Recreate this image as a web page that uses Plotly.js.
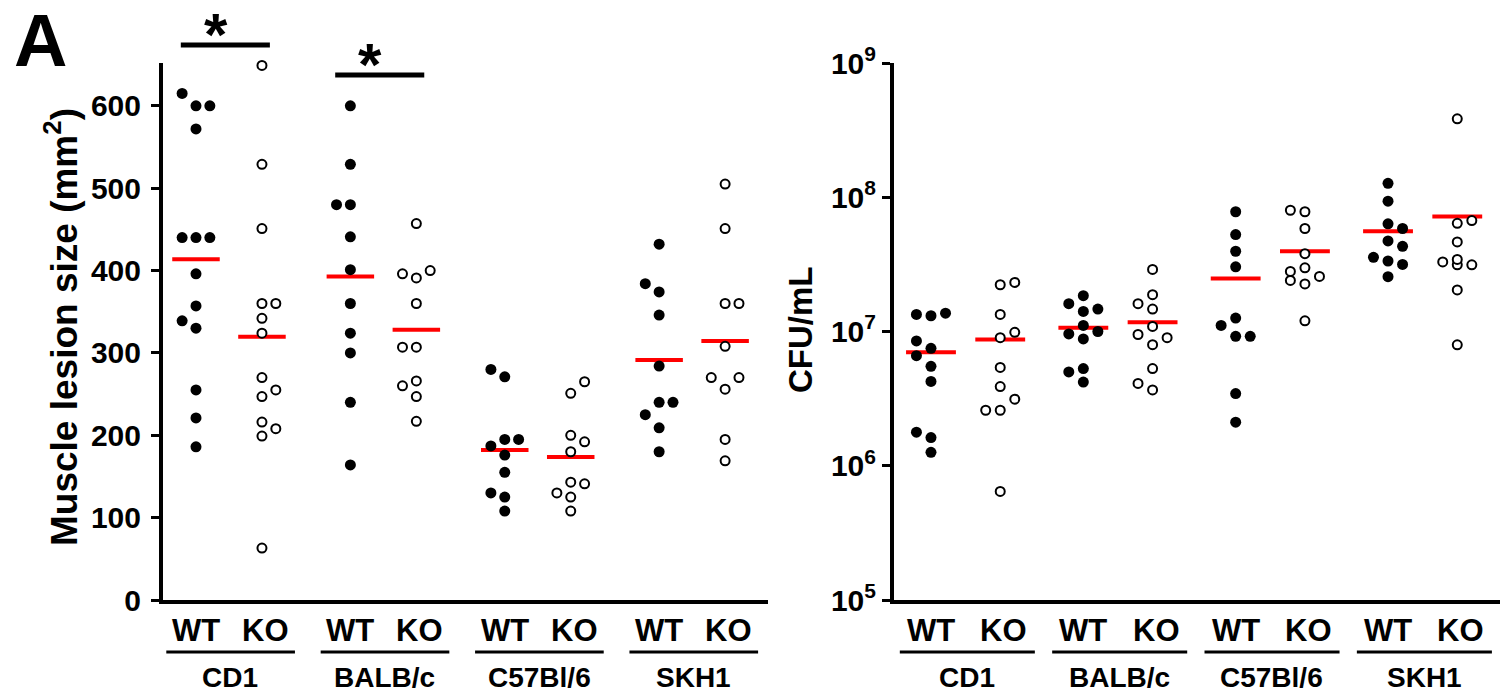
<!DOCTYPE html>
<html>
<head>
<meta charset="utf-8">
<script src="https://cdn.plot.ly/plotly-3.0.1.min.js"></script>
<style>
html,body{margin:0;padding:0;background:#fff;}
#chart{width:1507px;height:698px;}
</style>
</head>
<body>
<div id="chart"></div>
<script>
// ---------------- DATA ----------------
const strains = ['CD1', 'BALB/c', 'C57Bl/6', 'SKH1'];
const genotypes = ['WT', 'KO'];

// Muscle lesion size (mm^2)
const lesionCD1WT  = [600, 615, 600, 572, 440, 440, 440, 396, 357, 330, 339, 255, 221, 186];
const lesionCD1KO  = [649, 529, 451, 360, 360, 342, 324, 270, 247, 255, 199, 208, 216, 63];
const lesionBALBWT = [600, 529, 480, 480, 441, 401, 360, 324, 300, 240, 164];
const lesionBALBKO = [457, 391, 396, 400, 360, 307, 307, 266, 260, 247, 217];
const lesionC57WT  = [271, 280, 195, 187, 195, 176, 155, 125, 130, 108];
const lesionC57KO  = [251, 265, 200, 192, 180, 143, 141, 130, 125, 108];
const lesionSKH1WT = [432, 374, 384, 346, 284, 240, 225, 240, 209, 180];
const lesionSKH1KO = [505, 451, 360, 360, 308, 256, 270, 270, 195, 169];

// CFU/mL
const cfuCD1WT  = [1.31e7, 1.34e7, 1.37e7, 7.5e6, 6.6e6, 8.5e6, 5.5e6, 4.25e6, 1.62e6, 1.78e6, 1.26e6];
const cfuCD1KO  = [2.23e7, 2.32e7, 1.34e7, 9.0e6, 9.86e6, 5.4e6, 3.89e6, 3.13e6, 2.59e6, 2.59e6, 6.44e5];
const cfuBALBWT = [1.85e7, 1.61e7, 1.41e7, 1.47e7, 8.8e6, 9.6e6, 1.0e7, 1.11e7, 4.2e6, 5.3e6, 5.0e6];
const cfuBALBKO = [2.9e7, 1.88e7, 1.61e7, 1.47e7, 1.09e7, 9.5e6, 9.0e6, 7.97e6, 5.3e6, 3.67e6, 4.1e6];
const cfuC57WT  = [7.8e7, 5.27e7, 3.96e7, 3.03e7, 1.26e7, 9.2e6, 1.11e7, 9.2e6, 3.45e6, 2.11e6];
const cfuC57KO  = [7.8e7, 8.0e7, 5.85e7, 3.8e7, 2.98e7, 2.8e7, 2.26e7, 2.57e7, 2.4e7, 1.2e7];
const cfuSKH1WT = [1.27e8, 9.35e7, 6.34e7, 5.85e7, 4.73e7, 4.31e7, 3.35e7, 3.57e7, 3.16e7, 2.56e7];
const cfuSKH1KO = [3.84e8, 6.4e7, 6.7e7, 4.65e7, 3.14e7, 3.14e7, 3.3e7, 3.44e7, 2.04e7, 7.96e6];

const lesionTicks = [0, 100, 200, 300, 400, 500, 600];
const cfuTickExp = [5, 6, 7, 8, 9];
const significantStrains = ['CD1', 'BALB/c'];

// ---------------- LAYOUT CONSTANTS ----------------
const W = 1507, H = 698;
const plotTop = 63, plotBottom = 600;
const plotH = plotBottom - plotTop;
const yDomain = [(H - plotBottom) / H, (H - plotTop) / H];
const py = p => (H - p) / H;      // pixel row -> paper y

const FONT = 'Liberation Sans, Arial, Helvetica, sans-serif';

const lesionGroups = [
  [lesionCD1WT, lesionCD1KO], [lesionBALBWT, lesionBALBKO],
  [lesionC57WT, lesionC57KO], [lesionSKH1WT, lesionSKH1KO]
];
const cfuGroups = [
  [cfuCD1WT, cfuCD1KO], [cfuBALBWT, cfuBALBKO],
  [cfuC57WT, cfuC57KO], [cfuSKH1WT, cfuSKH1KO]
];
// which side a displaced point tries first (layout choice for the swarm)
const sideLeft  = [[-1, 1], [-1, -1], [-1, 1], [-1, 1]];
const sideRight = [[-1, 1], [-1, -1], [-1, -1], [1, 1]];

const panels = [
  { xa: 'x', ya: 'y', groups: lesionGroups, side: sideLeft, gap: 2.34,
    xrange: [-0.5, 8.67], yrange: [0, 652], log: false },
  { xa: 'x2', ya: 'y2', groups: cfuGroups, side: sideRight, gap: 2.2,
    xrange: [-0.534, 8.217], yrange: [5, 9], log: true }
];

const JIT = 0.21, HALF = 0.36, COLLIDE = 13;

function swarm(vals, toPx, first) {
  const placed = [];
  const order = [0, first, -first];
  return vals.map(v => {
    const p = toPx(v);
    let best = null, bestD = -1;
    for (const L of order) {
      const ds = placed.filter(q => q.l === L).map(q => Math.abs(q.p - p));
      const m = ds.length ? Math.min(...ds) : Infinity;
      if (m >= COLLIDE) { best = L; bestD = Infinity; break; }
      if (m > bestD) { bestD = m; best = L; }
    }
    placed.push({ l: best, p });
    return best;
  });
}

const traces = [];
const shapes = [];
const annotations = [];

panels.forEach(pn => {
  const pxPerUnit = plotH / (pn.yrange[1] - pn.yrange[0]);
  const toPx = v => (pn.log ? Math.log10(v) : v) * pxPerUnit;
  const markerTraces = [];
  pn.groups.forEach((pair, s) => {
    pair.forEach((vals, g) => {
      const xc = s * pn.gap + g;
      const lanes = swarm(vals, v => -toPx(v), pn.side[s][g]);
      const mean = vals.reduce((a, b) => a + b, 0) / vals.length;
      traces.push({
        type: 'scatter', mode: 'lines', xaxis: pn.xa, yaxis: pn.ya,
        x: [xc - HALF, xc + HALF], y: [mean, mean],
        line: { color: '#ff0000', width: 4 }, hoverinfo: 'skip', showlegend: false
      });
      markerTraces.push({
        type: 'scatter', mode: 'markers', xaxis: pn.xa, yaxis: pn.ya,
        x: lanes.map(l => xc + l * JIT), y: vals,
        marker: g === 0
          ? { symbol: 'circle', size: 11, color: '#000000', line: { width: 0 } }
          : { symbol: 'circle', size: 9, color: '#ffffff', line: { color: '#000000', width: 2 } },
        cliponaxis: false, hoverinfo: 'skip', showlegend: false
      });
    });
    // category labels
    const xW = s * pn.gap, xK = s * pn.gap + 1;
    annotations.push({ xref: pn.xa, yref: 'paper', x: xW, y: py(630), text: genotypes[0],
      showarrow: false, font: { size: 31, family: FONT, color: '#000', weight: 'bold' }, xanchor: 'center', yanchor: 'middle' });
    annotations.push({ xref: pn.xa, yref: 'paper', x: xK + 0.05, y: py(630), text: genotypes[1],
      showarrow: false, font: { size: 31, family: FONT, color: '#000', weight: 'bold' }, xanchor: 'center', yanchor: 'middle' });
    shapes.push({ type: 'line', xref: pn.xa, yref: 'paper', x0: xW - 0.45, x1: xK + 0.5,
      y0: py(652), y1: py(652), line: { color: '#000', width: 3 } });
    annotations.push({ xref: pn.xa, yref: 'paper', x: (xW + xK) / 2 + 0.02, y: py(677), text: strains[s],
      showarrow: false, font: { size: 28, family: FONT, color: '#000', weight: 'bold' }, xanchor: 'center', yanchor: 'middle' });
  });
  markerTraces.forEach(t => traces.push(t));
});

// significance bars (left panel)
const barRows = [45, 75];
significantStrains.forEach((name, i) => {
  const s = strains.indexOf(name);
  const xW = s * panels[0].gap, xK = xW + 1;
  shapes.push({ type: 'line', xref: 'x', yref: 'paper', x0: xW - 0.23, x1: xK + 0.12,
    y0: py(barRows[i]), y1: py(barRows[i]), line: { color: '#000', width: 5 } });
  annotations.push({ xref: 'x', yref: 'paper', x: xW + 0.3, y: py(barRows[i] - 45), text: '*',
    showarrow: false, font: { size: 60, family: FONT, color: '#000', weight: 'bold' },
    xanchor: 'center', yanchor: 'top', borderpad: 0 });
});

// axis titles and panel letter
annotations.push({ xref: 'paper', yref: 'paper', x: 62 / W, y: py(327), text: 'Muscle lesion size (mm<sup>2</sup>)',
  textangle: -90, showarrow: false, font: { size: 37, family: FONT, color: '#000', weight: 'bold' },
  xanchor: 'center', yanchor: 'middle' });
annotations.push({ xref: 'paper', yref: 'paper', x: 800 / W, y: py(330), text: 'CFU/mL',
  textangle: -90, showarrow: false, font: { size: 33, family: FONT, color: '#000', weight: 'bold' },
  xanchor: 'center', yanchor: 'middle' });
annotations.push({ xref: 'paper', yref: 'paper', x: 40 / W, y: py(40), text: 'A',
  showarrow: false, font: { size: 74, family: FONT, color: '#000', weight: 'bold' },
  xanchor: 'center', yanchor: 'middle' });

const tickFont = { size: 30, family: FONT, color: '#000', weight: 'bold' };
const xAxisBase = { showline: true, linewidth: 4, linecolor: '#000', showgrid: false, zeroline: false,
  ticks: '', showticklabels: false, fixedrange: true };
const yAxisBase = { showline: true, linewidth: 4, linecolor: '#000', showgrid: false, zeroline: false,
  ticks: 'outside', ticklen: 8, tickwidth: 3, tickcolor: '#000', tickfont: tickFont,
  ticklabelstandoff: 4, fixedrange: true };

const layout = {
  width: W, height: H,
  margin: { l: 0, r: 0, t: 0, b: 0 },
  paper_bgcolor: '#fff', plot_bgcolor: '#fff',
  font: { family: FONT, color: '#000' },
  showlegend: false, hovermode: false,
  xaxis: Object.assign({}, xAxisBase, { domain: [163 / W, 768 / W], range: panels[0].xrange, anchor: 'y' }),
  yaxis: Object.assign({}, yAxisBase, { domain: yDomain, range: panels[0].yrange, anchor: 'x',
    tickmode: 'array', tickvals: lesionTicks, ticktext: lesionTicks.map(String) }),
  xaxis2: Object.assign({}, xAxisBase, { domain: [894 / W, 1500 / W], range: panels[1].xrange, anchor: 'y2' }),
  yaxis2: Object.assign({}, yAxisBase, { domain: yDomain, type: 'log', range: panels[1].yrange, anchor: 'x2',
    tickmode: 'array', tickvals: cfuTickExp.map(e => Math.pow(10, e)),
    ticktext: cfuTickExp.map(e => '10<sup>' + e + '</sup>'), ticklabelstandoff: 0 }),
  shapes: shapes,
  annotations: annotations
};

Plotly.newPlot('chart', traces, layout, { staticPlot: true, displayModeBar: false });
</script>
</body>
</html>
